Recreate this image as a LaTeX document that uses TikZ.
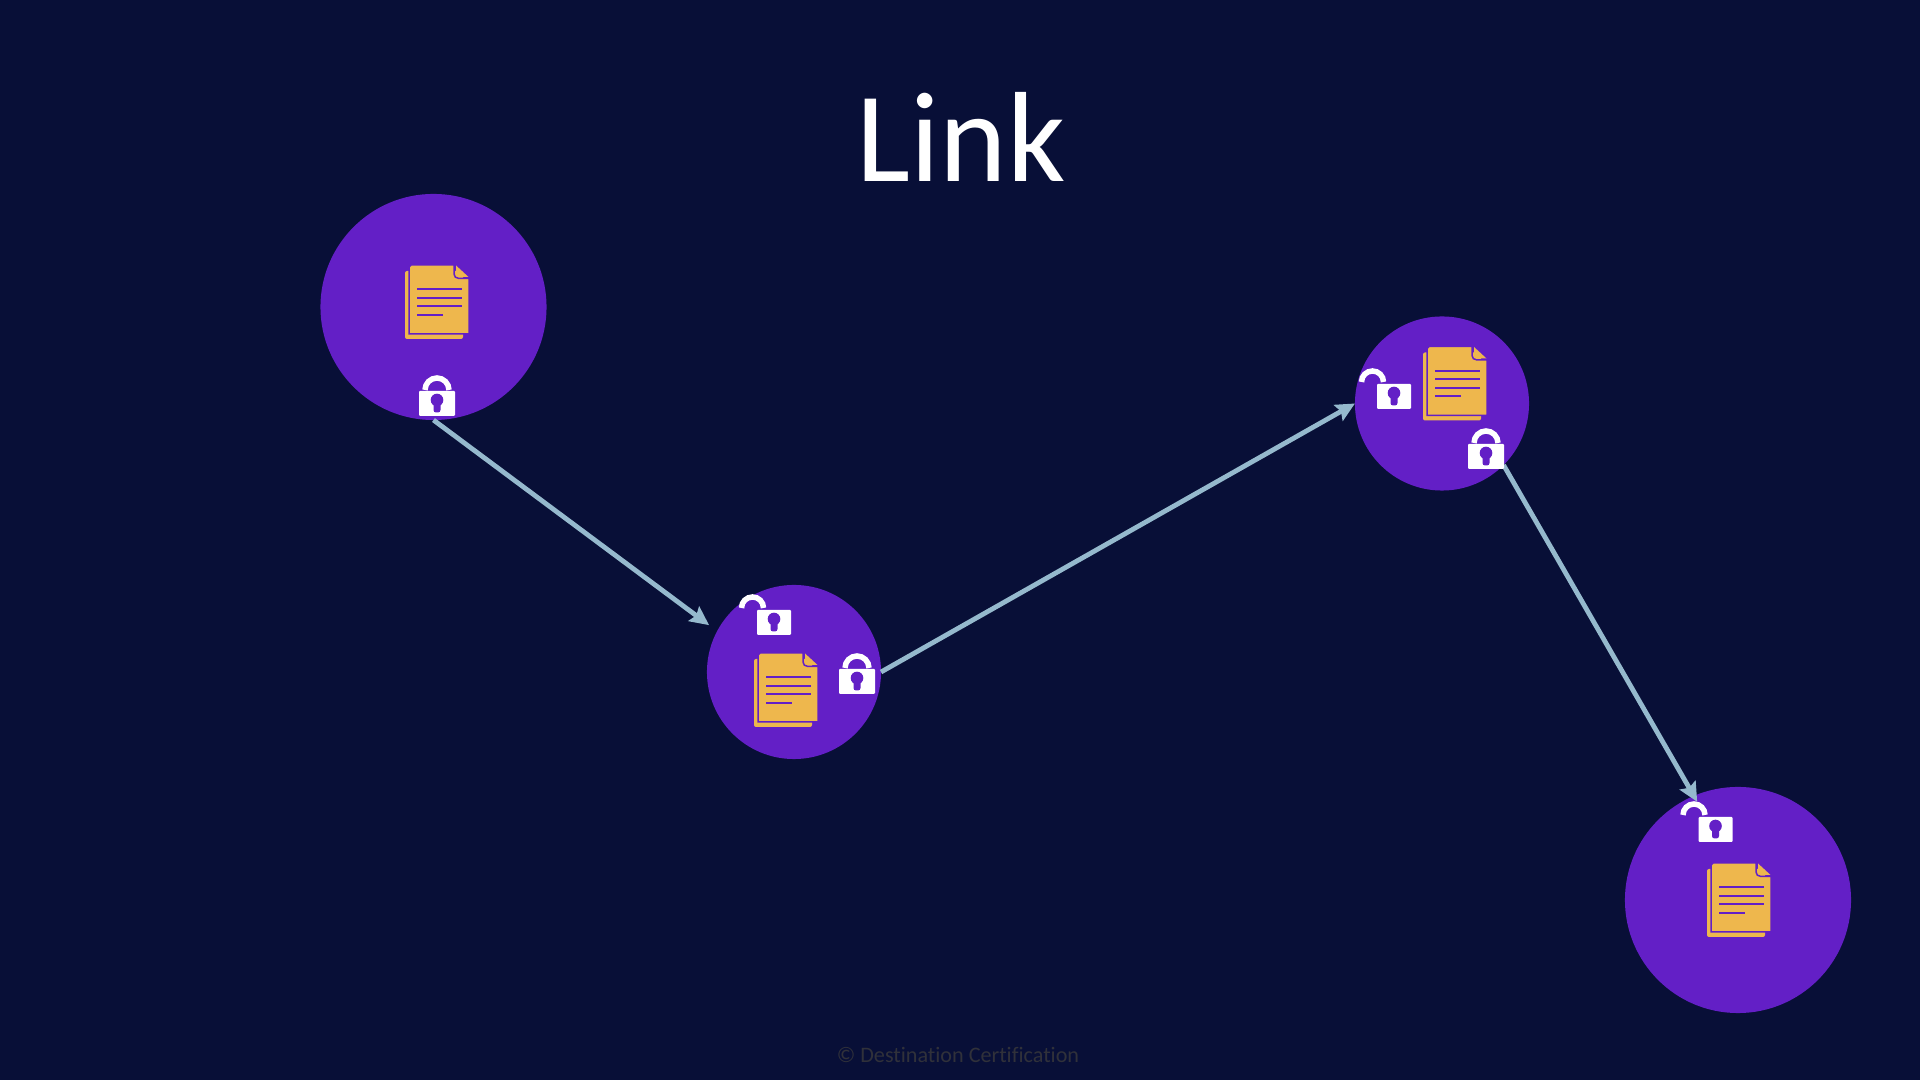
\documentclass[tikz,border=0pt]{standalone}
\usepackage{fontspec}
\usepackage{tikz}
\usetikzlibrary{arrows.meta}
\setmainfont[Ligatures=NoCommon]{Carlito}
\definecolor{mnavy}{HTML}{080F37}
\definecolor{mpurple}{HTML}{631FC6}
\definecolor{mgold}{HTML}{EEB74D}
\definecolor{msteel}{HTML}{95B9CD}
\definecolor{mgrey}{HTML}{30313A}
\tikzset{
  host/.style={circle, fill=mpurple, inner sep=0, outer sep=0},
  bighost/.style={host, minimum size=2.26cm},
  smallhost/.style={host, minimum size=1.74cm},
  link/.style={draw=msteel, line width=0.048cm, -{Stealth[length=0.19cm,width=0.18cm,inset=0.03cm]}},
  pics/doc/.style={code={
    \fill [mgold, rounded corners=0.02cm] (-5, 6) rectangle (53, 74);
    \draw [mpurple, fill=mgold, line width=0.015cm]
      (-1, 2) -- (-1, 69) -- (59, 69) -- (59, 13.5) -- (49, 13.5) .. controls (46, 13.5) and (44, 11.5) .. (44, 9) -- (44, 0) -- (1, 0) -- cycle;
    \fill [mgold] (46, 0.5) -- (58.5, 12) -- (48.5, 12) .. controls (47, 12) and (46, 10.5) .. (46, 8.5) -- cycle;
    \draw [mpurple, line width=0.02cm] (7, 24.5) -- (52, 24.5);
    \draw [mpurple, line width=0.02cm] (7, 33) -- (52, 33);
    \draw [mpurple, line width=0.02cm] (7, 41.5) -- (52, 41.5);
    \draw [mpurple, line width=0.02cm] (7, 50) -- (33, 50);
  }},
  pics/keyhole/.style={code={
    \fill [mpurple] (0, 9) circle (0.063cm);
    \fill [mpurple, rounded corners=0.025cm] (-3.5, 9) rectangle (3.5, 21.5);
  }},
  pics/lockshut/.style={code={
    \fill [white, rounded corners=0.01cm] (-18, 0) rectangle (18, 25);
    \draw [white, line width=0.055cm] (-12, -1) arc [start angle=180, end angle=360, radius=12];
    \pic at (0, 0) {keyhole};
  }},
  pics/lockopen/.style={code={
    \fill [white, rounded corners=0.01cm] (-17, 0) rectangle (17, 25);
    \draw [white, line width=0.055cm] (-32.5, -2) arc [start angle=180, end angle=360, radius=11];
    \pic at (0, 0) {keyhole};
  }}
}

\begin{document}
\begin{tikzpicture}[x=0.01cm, y=-0.01cm]
    \fill [mnavy] (0, 0) rectangle (1920, 1080);

    \node [white, font=\fontsize{36.5}{37}\selectfont] (title) at (961, 137) {Link};
    \node [mgrey, font=\fontsize{6.3}{7}\selectfont] (copy) at (958, 1055) {© Destination Certification};

    \node [bighost] (a) at (433.5, 307) {};
    \node [smallhost] (b) at (794, 672) {};
    \node [smallhost] (c) at (1442, 403.5) {};
    \node [bighost] (d) at (1738, 900) {};

    \draw [link, shorten >=2.85pt] (a.south) -- (b.152);
    \draw [link] (b.east) -- (c.west);
    \draw [link, shorten >=-1.9pt] (c.-45) -- (d.113);

    \pic at (410, 265) {doc};
    \pic at (759, 653) {doc};
    \pic at (1428, 346.5) {doc};
    \pic at (1712, 863) {doc};

    \pic at (437, 391) {lockshut};
    \pic at (857, 669) {lockshut};
    \pic at (1486, 444) {lockshut};

    \pic at (774, 610) {lockopen};
    \pic at (1394, 384) {lockopen};
    \pic at (1715.5, 817) {lockopen};
  \end{tikzpicture}
\end{document}
